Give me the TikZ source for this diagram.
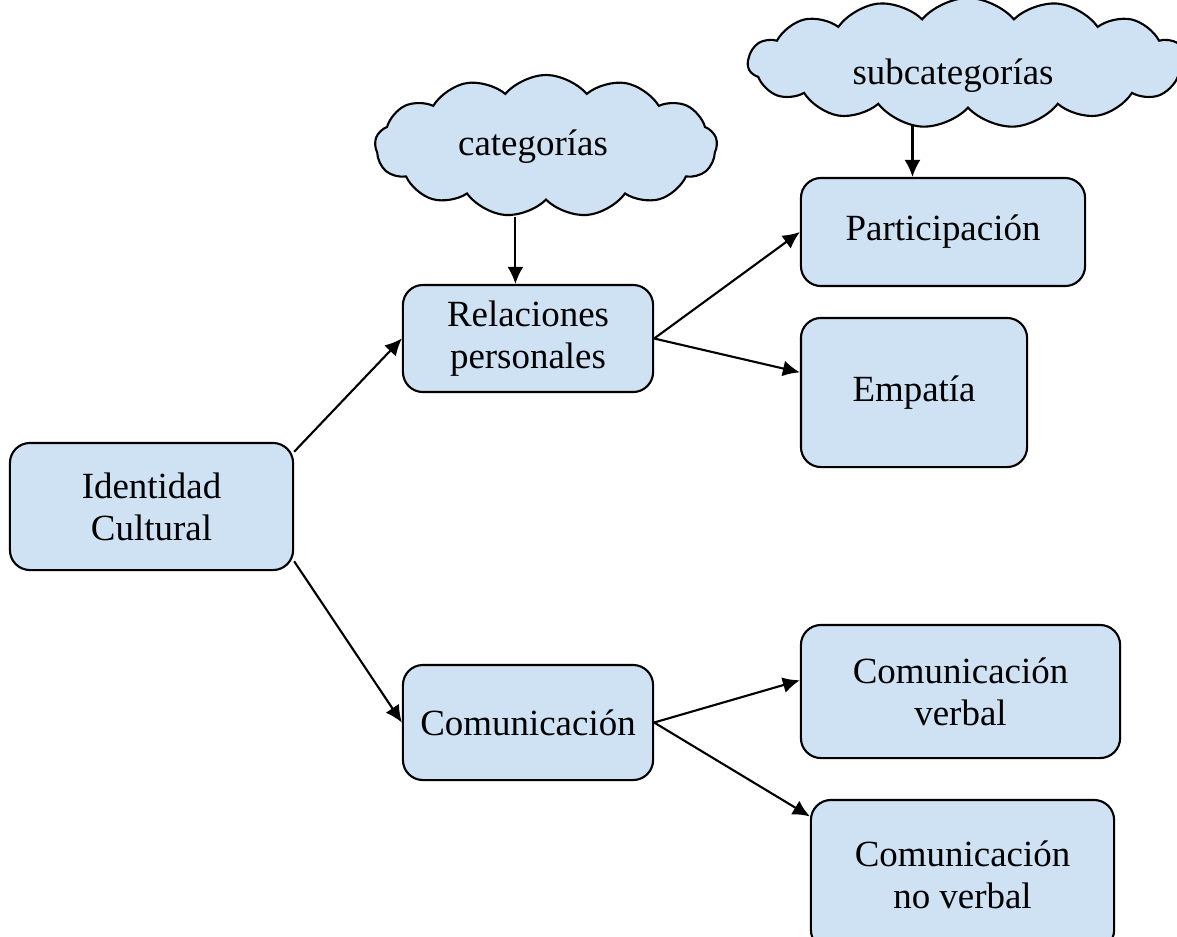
\documentclass[tikz,border=0pt]{standalone}
\usepackage{fontspec}
\setmainfont{Liberation Serif}
\usetikzlibrary{arrows.meta}
\usetikzlibrary{shapes.symbols}

\definecolor{boxblue}{RGB}{207,226,243}

\tikzset{
  box/.style={draw, line width=0.6pt, fill=boxblue, rounded corners=0.2cm,
    align=center, inner sep=0pt, font=\fontsize{10.5}{12}\selectfont},
  cloudbox/.style={draw, line width=0.6pt, fill=boxblue, cloud, cloud puffs=13,
    cloud puff arc=100, cloud ignores aspect, inner sep=0pt},
  cloudtext/.style={inner sep=0pt, font=\fontsize{10.5}{12}\selectfont},
  arr/.style={line width=0.6pt, -{Latex[length=1.7mm,width=1.6mm]}}
}

\begin{document}
\begin{tikzpicture}[x=0.01cm,y=-0.01cm]
      \useasboundingbox (0,0) rectangle (1177,936);
      \clip (0,0) rectangle (1177,936);

      % clouds
      \node[cloudbox, minimum width=3.42cm, minimum height=1.42cm] (cat) at (546,146) {};
      \node[cloudtext] (cattext) at (533,147) {categorías};
      \node[cloudbox, cloud puffs=15, minimum width=4.4cm, minimum height=1.3cm] (sub) at (968,63) {};
      \node[cloudtext] (subtext) at (953,76) {subcategorías};

      \node[box, minimum width=2.83cm, minimum height=1.27cm] (ident) at (151.5,506.5) {Identidad\\Cultural};
      \node[box, minimum width=2.5cm, minimum height=1.07cm] (rel) at (528,338.5) {Relaciones\\personales};
      \node[box, minimum width=2.5cm, minimum height=1.15cm] (com) at (528,722.5) {Comunicación};
      \node[box, minimum width=2.84cm, minimum height=1.08cm] (part) at (943,232) {Participación};
      \node[box, minimum width=2.26cm, minimum height=1.49cm] (emp) at (914,392.5) {Empatía};
      \node[box, minimum width=3.19cm, minimum height=1.33cm] (cverb) at (960.5,691.5) {Comunicación\\verbal};
      \node[box, minimum width=3.03cm, minimum height=1.5cm] (cnoverb) at (962.5,875) {Comunicación\\no verbal};

      \draw[arr] (ident.21.8) -- (rel.west);
      \draw[arr] (ident.-21.8) -- (com.west);
      \draw[arr] (rel.east) -- (part.west);
      \draw[arr] (rel.east) -- (emp.170);
      \draw[arr] (com.east) -- (cverb.176);
      \draw[arr] (com.east) -- (cnoverb.159);
      \draw[arr] ([yshift=-0.16cm]cat.south -| rel.103) -- (rel.103);
      \draw[arr] ([yshift=-0.17cm]sub.south -| part.119) -- (part.119);
\end{tikzpicture}
\end{document}
